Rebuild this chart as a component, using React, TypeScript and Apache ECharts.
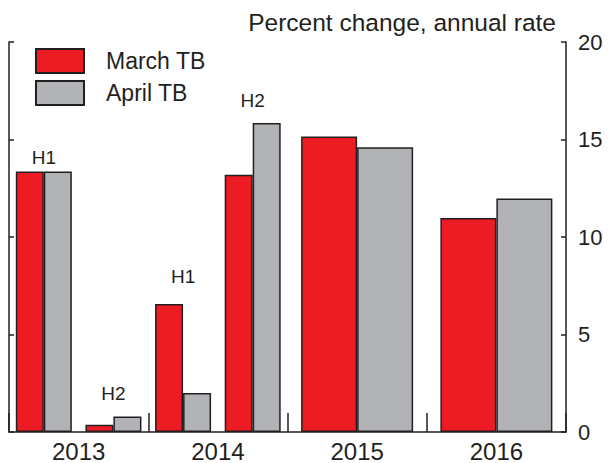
import React, { useEffect, useRef } from "react";
import * as echarts from "echarts";

const years = ["2013", "2014", "2015", "2016"];
const halfSlots = [
  "2013 H1", "2013 H2", "2014 H1", "2014 H2",
  "2015 H1", "2015 H2", "2016 H1", "2016 H2",
];
// half-year growth, 2013 H1 .. 2014 H2
const marchHalfYear = [13.36, 0.37, 6.57, 13.19];
const aprilHalfYear = [13.36, 0.8, 2.0, 15.84];
// annual growth, 2015 and 2016
const marchAnnual = [15.16, 10.97];
const aprilAnnual = [14.6, 11.97];
// half-year annotation labels and their heights (percent)
const halfLabels = ["H1", "H2", "H1", "H2"];
const halfLabelHeights = [14.1, 2.0, 8.0, 17.0];
const yTicks = { min: 0, max: 20, interval: 5 };

const INK = "#231f20";
const RED = "#ed1c24";
const GREY = "#b2b3b7";
const FONT = "'Liberation Sans', Arial, Helvetica, sans-serif";

export default function App() {
  const ref = useRef<HTMLDivElement>(null);
  useEffect(() => {
    if (!ref.current) return;
    const chart = echarts.init(ref.current, undefined, { renderer: "svg" });
    const pad = (arr: number[], before: number, total: number) => {
      const out: (number | string)[] = [];
      for (let i = 0; i < total; i++) {
        const j = i - before;
        out.push(j >= 0 && j < arr.length ? arr[j] : "-");
      }
      return out;
    };
    const barStyle = (color: string) => ({
      color,
      borderColor: INK,
      borderWidth: 1.5,
    });
    const yAxisBase = {
      type: "value" as const,
      min: yTicks.min,
      max: yTicks.max,
      interval: yTicks.interval,
      splitLine: { show: false },
      axisLine: { show: true, lineStyle: { color: INK, width: 1.5 } },
      axisTick: { show: true, inside: true, length: 5, lineStyle: { color: INK, width: 1.5 } },
    };
    chart.setOption({
      animation: false,
      textStyle: { fontFamily: FONT },
      title: {
        text: "Percent change, annual rate",
        right: 52,
        top: 10,
        padding: 0,
        textStyle: { fontSize: 24.5, fontWeight: "normal", color: INK, fontFamily: FONT },
      },
      legend: {
        orient: "vertical",
        left: 35,
        top: 48,
        padding: 0,
        itemWidth: 48,
        itemHeight: 24,
        itemGap: 6,
        icon: "rect",
        data: ["March TB", "April TB"],
        textStyle: {
          fontSize: 23,
          color: INK,
          fontFamily: FONT,
          padding: [0, 0, 0, 17],
          lineHeight: 24,
        },
      },
      grid: { left: 9, right: 42, top: 42, bottom: 31, containLabel: false },
      xAxis: [
        {
          type: "category",
          data: halfSlots,
          show: false,
        },
        {
          type: "category",
          data: years,
          position: "bottom",
          axisLine: { show: true, lineStyle: { color: INK, width: 1.5 } },
          axisTick: { show: true, inside: true, length: 19, lineStyle: { color: INK, width: 1.5 } },
          axisLabel: { fontSize: 24, color: INK, margin: 7, fontFamily: FONT },
          splitLine: { show: false },
        },
      ],
      yAxis: [
        {
          ...yAxisBase,
          position: "right",
          axisLabel: { fontSize: 22, color: INK, margin: 12, fontFamily: FONT },
        },
        {
          ...yAxisBase,
          position: "left",
          axisLabel: { show: false },
        },
      ],
      series: [
        {
          type: "bar",
          name: "March TB",
          xAxisIndex: 0,
          yAxisIndex: 0,
          barWidth: 28,
          barGap: 0,
          data: pad(marchHalfYear, 0, halfSlots.length),
          itemStyle: barStyle(RED),
        },
        {
          type: "bar",
          name: "April TB",
          xAxisIndex: 0,
          yAxisIndex: 0,
          barWidth: 28,
          barGap: 0,
          data: pad(aprilHalfYear, 0, halfSlots.length),
          itemStyle: barStyle(GREY),
        },
        {
          type: "bar",
          name: "March TB",
          xAxisIndex: 1,
          yAxisIndex: 0,
          barWidth: 56,
          barGap: 0,
          data: pad(marchAnnual, 2, years.length),
          itemStyle: barStyle(RED),
        },
        {
          type: "bar",
          name: "April TB",
          xAxisIndex: 1,
          yAxisIndex: 0,
          barWidth: 56,
          barGap: 0,
          data: pad(aprilAnnual, 2, years.length),
          itemStyle: barStyle(GREY),
        },
        {
          type: "scatter",
          xAxisIndex: 0,
          yAxisIndex: 0,
          symbol: "circle",
          symbolSize: 0,
          itemStyle: { color: INK, opacity: 1 },
          silent: true,
          data: halfLabels.map((n, i) => ({ name: n, value: [i, halfLabelHeights[i]] })),
          label: {
            show: true,
            position: "inside",
            formatter: "{b}",
            fontSize: 19,
            color: INK,
            opacity: 1,
            fontFamily: FONT,
          },
        },
      ],
    });
    return () => chart.dispose();
  }, []);
  return (
    <div
      ref={ref}
      style={{ position: "fixed", left: 0, top: 0, width: 608, height: 463, background: "#fff" }}
    />
  );
}
